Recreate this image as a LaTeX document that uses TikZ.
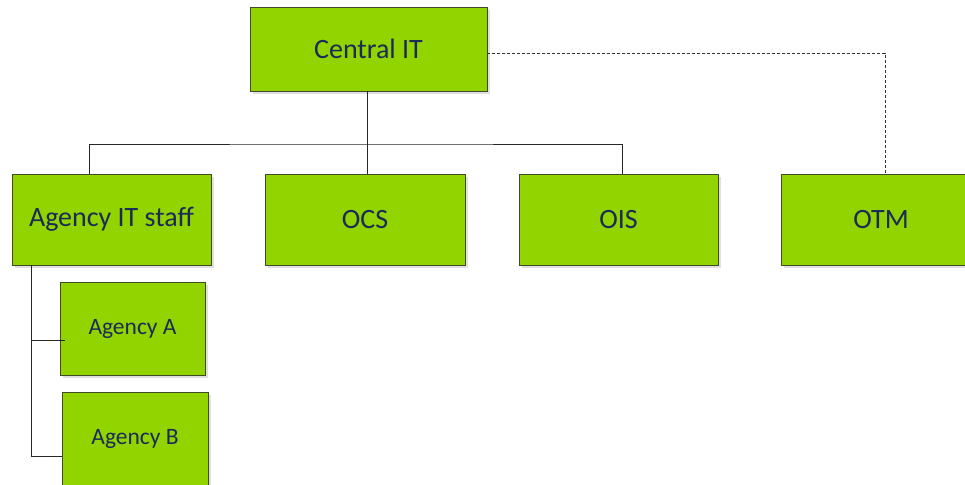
\documentclass[tikz,border=0pt]{standalone}
\usepackage{fontspec}
\setmainfont{Carlito}
\usetikzlibrary{shadows}
\definecolor{boxgreen}{HTML}{92D400}
\definecolor{boxtext}{HTML}{1C2A5A}
\definecolor{boxedge}{HTML}{3F4A2A}
\tikzset{
  orgbox/.style={draw=boxedge, line width=0.8pt, fill=boxgreen, text=boxtext,
    inner sep=0pt, font=\fontsize{28}{32}\selectfont,
    drop shadow={shadow xshift=3pt, shadow yshift=-3pt, fill=black!12, opacity=1}},
  subbox/.style={orgbox, font=\fontsize{23.5}{27}\selectfont},
  link/.style={draw=black!85, line width=0.9pt},
  dotlink/.style={draw=black!80, line width=0.8pt, dash pattern=on 3pt off 2pt}
}
\begin{document}
\begin{tikzpicture}[x=1pt, y=-1pt]
  \useasboundingbox (0,0) rectangle (965,484);
  \clip (0,0) rectangle (965,484);
  % top level
  \node[orgbox, minimum width=237pt, minimum height=84pt] (central) at (368.5,49) {Central IT};
  % second level
  \node[orgbox, minimum width=199pt, minimum height=91pt] (agency) at (111.5,219.5) {Agency IT staff};
  \node[orgbox, minimum width=200pt, minimum height=91pt] (ocs) at (365,219.5) {OCS};
  \node[orgbox, minimum width=199pt, minimum height=91pt] (ois) at (618.5,219.5) {OIS};
  \node[orgbox, minimum width=200pt, minimum height=91pt] (otm) at (881,219.5) {OTM};
  % agencies under the agency IT staff
  \node[subbox, minimum width=145pt, minimum height=93pt] (agA) at (132.5,328.5) {Agency A};
  \node[subbox, minimum width=146pt, minimum height=93pt] (agB) at (135,438.5) {Agency B};
  % solid reporting lines
  \coordinate (bus) at (367,144);
  \draw[link] (central.south -| bus) -- (bus);
  \draw[link] (agency.north -| 89,0) |- (bus) -| (ois.north -| 622,0);
  \draw[link] (bus) -- (ocs.north -| bus);
  % agency branches
  \coordinate (trunk) at (31,456);
  \draw[link] (agency.south -| trunk) -- (trunk) -- (agB.west |- trunk);
  \draw[link] (31,340) -- ([xshift=5pt]agA.west |- 0,340);
  % dotted line to OTM
  \draw[dotlink] (central.east |- 0,53) -| (otm.north -| 885,0);
\end{tikzpicture}
\end{document}
